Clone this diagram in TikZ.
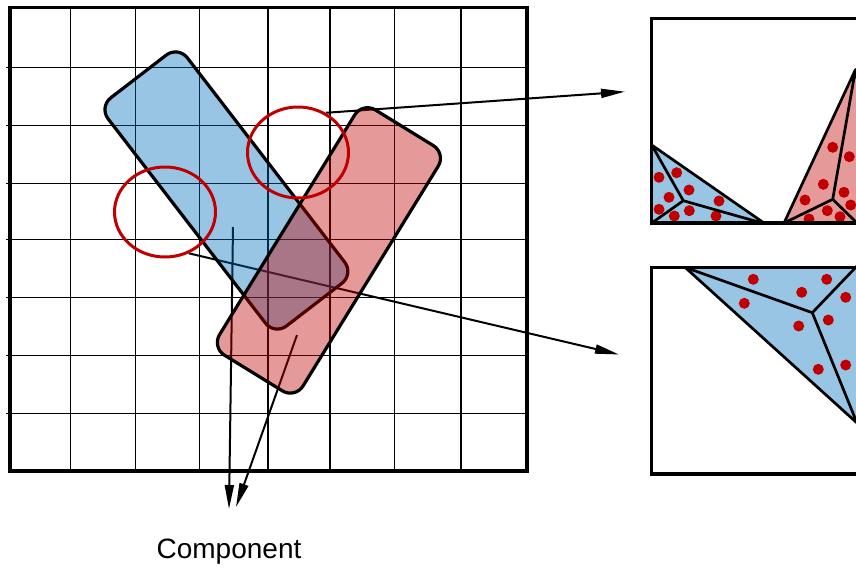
\documentclass[tikz,border=0pt]{standalone}
\usepackage{fontspec}
\setmainfont{Liberation Sans}
\usetikzlibrary{positioning, arrows.meta, shapes.geometric, backgrounds}
\definecolor{cellblue}{RGB}{0,110,187}
\definecolor{cellred}{RGB}{192,0,0}
\colorlet{meshblue}{cellblue!40!white}
\colorlet{meshred}{cellred!40!white}
\tikzset{
  gridline/.style={line width=1.3pt},
  block/.style={draw=black, line width=3.2pt, rounded corners=15pt, fill opacity=0.4,
                inner sep=0pt, minimum width=288pt, minimum height=99pt},
  ring/.style={ellipse, draw=cellred, line width=3pt, inner sep=0pt},
  link/.style={line width=2pt, -{Triangle[length=24pt,width=9pt]}},
  panel/.style={line width=3.4pt},
  mesh/.style={line width=2.7pt, line join=round},
}

\begin{document}
\begin{tikzpicture}[x=1pt, y=-1pt]
  \useasboundingbox (0,0) rectangle (856,573);

  \begin{scope}[on background layer]
    \foreach \gx in {70.5,135.3,199.3,268,330,394.3,461}
      \draw[gridline] (\gx,7.5) -- (\gx,471);
    \foreach \gy in {67.7,125.5,183.7,239.3,297.7,355.7,413.3}
      \draw[gridline] (6,\gy) -- (527,\gy);
  \end{scope}

  \node[block, fill=cellblue, rotate=-52.4, minimum height=100pt] (blueblk) at (226.4,190.5) {};
  \node[block, fill=cellred, rotate=58.4, minimum height=98pt] (redblk) at (328.9,250.4) {};
  \node[ring, minimum width=101pt, minimum height=91pt] (ringA) at (298,152.5) {};
  \node[ring, minimum width=101pt, minimum height=90pt] (ringB) at (165,212) {};
  \draw[line width=3.6pt] (10,7.5) rectangle (527,471);

  \coordinate (tipA) at (625,91.7);
  \coordinate (tipB) at (619,354.5);
  \coordinate (bsrc) at (233,227);
  \coordinate (rsrc) at (297,335);
  \coordinate (bend) at (229,509);
  \coordinate (rend) at (236,507);
  \node[font=\fontsize{28}{34}\selectfont, inner sep=0pt] (comp) at (229,552) {Component};

  \begin{scope}[on background layer]
    \draw[link] (ringA.55) -- (tipA);
    \draw[link] (ringB.-60) -- (tipB);
    \draw[link] (bsrc) -- (bend);
    \draw[link] (rsrc) -- (rend);
  \end{scope}

  \begin{scope}
    \clip (0,0) rectangle (856,573);
    % upper panel
    \fill[meshblue] (651.7,145) -- (651.7,223) -- (764,223) -- cycle;
    \fill[meshred] (784,223) -- (855.5,69.5) -- (885,223) -- cycle;
    \foreach \p in {(659,177.3),(676.7,172.7),(689,190),(669,197.3),(659,209.3),(674.3,216),(689.3,210.7),(719,201),(716,216),
                    (832.7,147.3),(849.3,156.7),(823.3,184.3),(844,192.3),(805,200),(850.7,205),(827.3,210.7),(840,216.7),(809,219)}
      \fill[cellred] \p circle (5.5pt);
    \draw[mesh] (651.7,145) -- (764,223) (651.7,145) -- (683.3,200.7) -- (651.7,223) (683.3,200.7) -- (762,223);
    \draw[mesh] (784,223) -- (855.5,69.5) -- (885,223) (855.5,69.5) -- (832.7,199.3) -- (784,223) (832.7,199.3) -- (857,223);
    \draw[panel] (651.7,18.3) rectangle (900,223);
    % lower panel
    \fill[meshblue] (685,267.3) -- (900,267.3) -- (857,423) -- cycle;
    \foreach \p in {(753.3,279.3),(826.7,279.3),(801.7,292.3),(845.7,297.3),(744.3,303.3),(828.3,320),(798.7,326),(818.3,369.3),(845.7,365)}
      \fill[cellred] \p circle (5.5pt);
    \draw[mesh] (685,267.3) -- (857,423) (685,267.3) -- (812.3,312.7) -- (857,266) (812.3,312.7) -- (857,423);
    \draw[panel] (651.7,267.3) rectangle (900,474);
  \end{scope}
\end{tikzpicture}
\end{document}
